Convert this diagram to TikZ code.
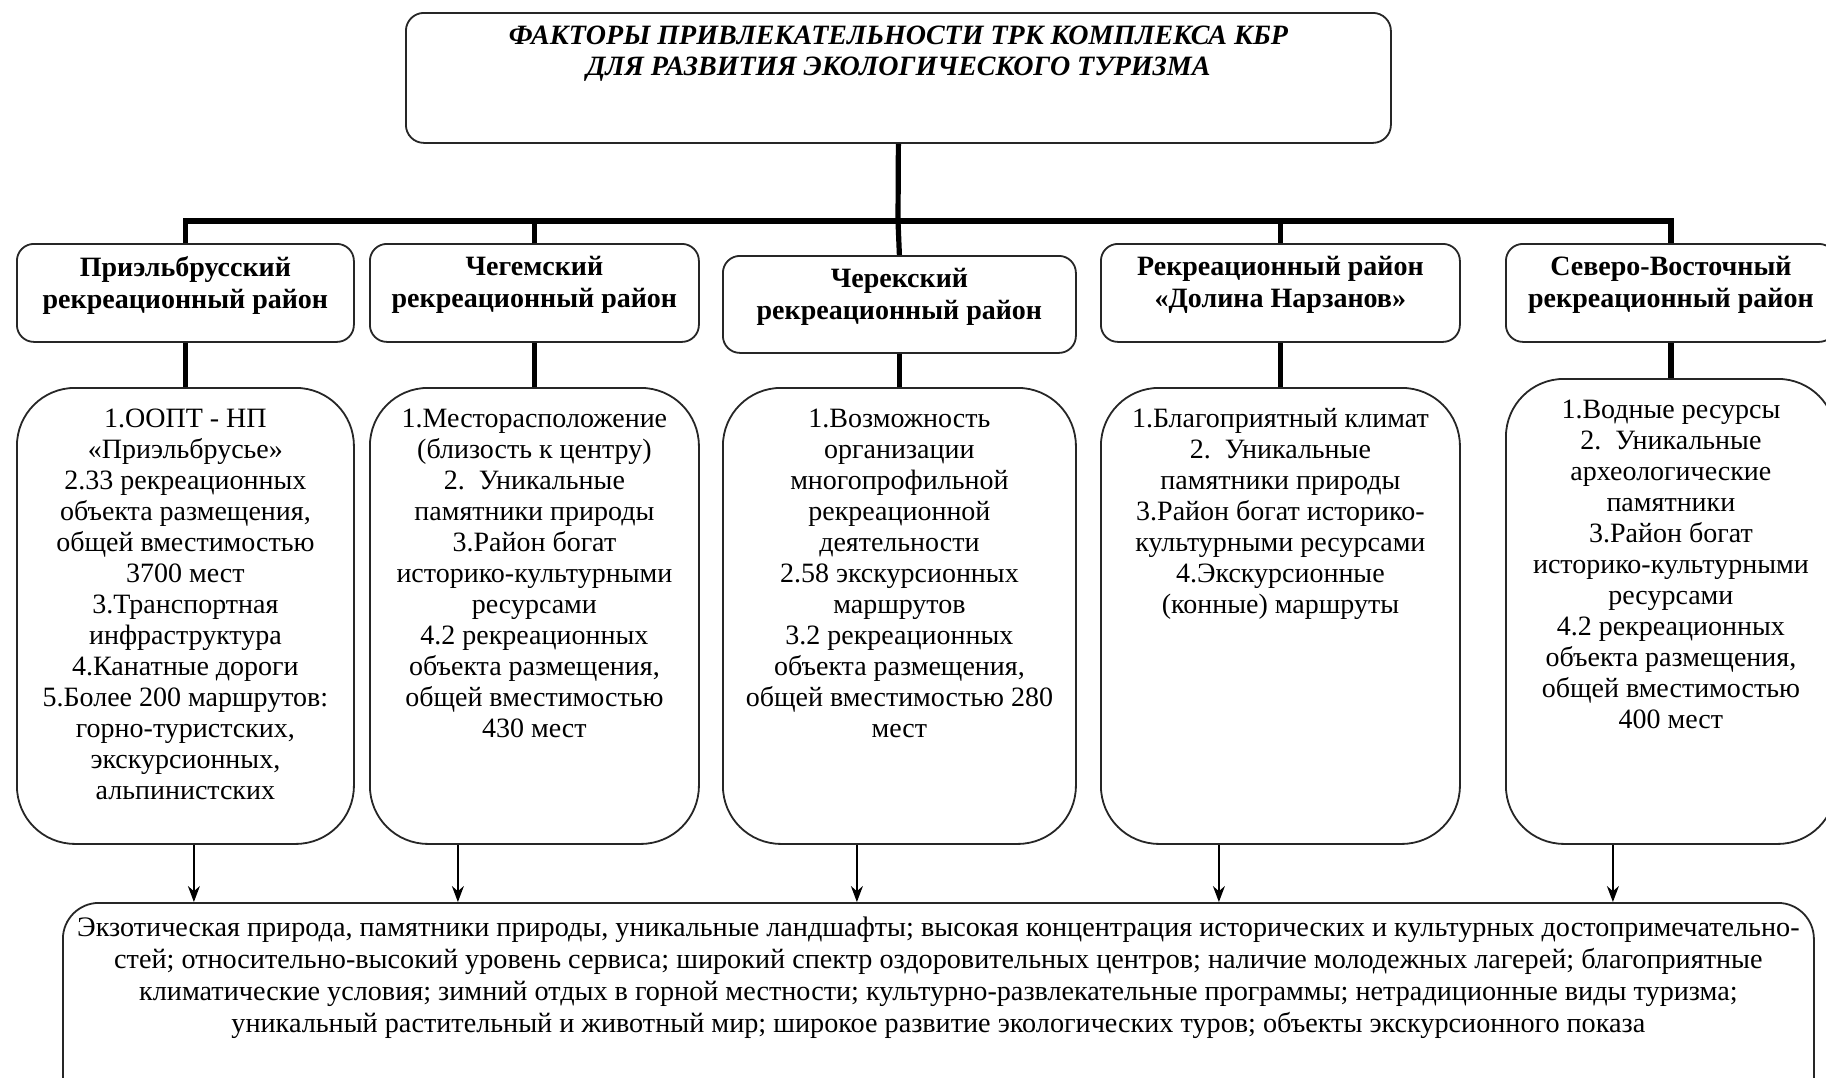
\documentclass[tikz,border=0pt]{standalone}
\usepackage{fontspec}
\setmainfont{Liberation Serif}
\usetikzlibrary{arrows.meta}
\tikzset{
  frame/.style={draw=black!85, line width=0.9pt, inner sep=0pt, anchor=north west, fill=white},
  hdr/.style={frame, rounded corners=8.5pt},
  det/.style={frame, rounded corners=29pt},
  low/.style={frame, rounded corners=18pt},
  busline/.style={line width=2.6pt},
  arr/.style={line width=0.75pt, -{Stealth[length=8pt,width=6pt]}},
}
\newcommand{\boxtext}[4]{\parbox[c][#2][t]{#1}{\centering\vspace*{#3}#4\par}}
\newcommand{\dfont}{\fontsize{14}{15.5}\selectfont}
\newcommand{\hfont}{\fontsize{14}{16}\selectfont\bfseries}
\begin{document}
\begin{tikzpicture}[x=0.5pt,y=-0.5pt]
\path[use as bounding box] (0,0) rectangle (1826,1077);
\clip (0,0) rectangle (1826,1077);

% title
\node[hdr, rounded corners=9pt] (title) at (405,12)
  {\boxtext{492.5pt}{65pt}{6.5pt}{\fontsize{14}{15.5}\selectfont\bfseries\itshape
   ФАКТОРЫ ПРИВЛЕКАТЕЛЬНОСТИ ТРК КОМПЛЕКСА КБР\\ДЛЯ РАЗВИТИЯ ЭКОЛОГИЧЕСКОГО ТУРИЗМА}};

% headers
\node[hdr] (h1) at (16,243) {\boxtext{168.5pt}{49pt}{6.4pt}{\hfont Приэльбрусский\\рекреационный район}};
\node[hdr] (h2) at (369,243) {\boxtext{164.5pt}{49pt}{6.4pt}{\hfont Чегемский\\рекреационный район}};
\node[hdr] (h3) at (722,255) {\boxtext{176.5pt}{48.5pt}{6.4pt}{\hfont Черекский\\рекреационный район}};
\node[hdr] (h4) at (1100,243) {\boxtext{179.5pt}{49pt}{6.4pt}{\hfont Рекреационный район\\«Долина Нарзанов»}};
\node[hdr] (h5) at (1505,243) {\boxtext{165pt}{49pt}{6.4pt}{\hfont Северо-Восточный\\рекреационный район}};

% details
\node[det] (d1) at (16,387) {\boxtext{168.5pt}{228pt}{10.4pt}{\dfont
  1.ООПТ - НП\\«Приэльбрусье»\\2.33 рекреационных\\объекта размещения,\\общей вместимостью\\3700 мест\\3.Транспортная\\инфраструктура\\4.Канатные дороги\\5.Более 200 маршрутов:\\горно-туристских,\\экскурсионных,\\альпинистских}};
\node[det] (d2) at (369,387) {\boxtext{164.5pt}{228pt}{10.4pt}{\dfont
  1.Месторасположение\\(близость к центру)\\2.\enspace Уникальные\\памятники природы\\3.Район богат\\историко-культурными\\ресурсами\\4.2 рекреационных\\объекта размещения,\\общей вместимостью\\430 мест}};
\node[det] (d3) at (722,387) {\boxtext{176.5pt}{228pt}{10.4pt}{\dfont
  1.Возможность\\организации\\многопрофильной\\рекреационной\\деятельности\\2.58 экскурсионных\\маршрутов\\3.2 рекреационных\\объекта размещения,\\общей вместимостью 280\\мест}};
\node[det] (d4) at (1100,387) {\boxtext{179.5pt}{228pt}{10.4pt}{\dfont
  1.Благоприятный климат\\2.\enspace Уникальные\\памятники природы\\3.Район богат историко-\\культурными ресурсами\\4.Экскурсионные\\(конные) маршруты}};
\node[det] (d5) at (1505,378) {\boxtext{165pt}{232.5pt}{10.4pt}{\dfont
  1.Водные ресурсы\\2.\enspace Уникальные\\археологические\\памятники\\3.Район богат\\историко-культурными\\ресурсами\\4.2 рекреационных\\объекта размещения,\\общей вместимостью\\400 мест}};

% bottom
\node[low] (low) at (62,902) {\boxtext{875.5pt}{125pt}{7.2pt}{\fontsize{14.1}{15.9}\selectfont
  Экзотическая природа, памятники природы, уникальные ландшафты; высокая концентрация исторических и культурных достопримечательно-\\
  стей; относительно-высокий уровень сервиса; широкий спектр оздоровительных центров; наличие молодежных лагерей; благоприятные\\
  климатические условия; зимний отдых в горной местности; культурно-развлекательные программы; нетрадиционные виды туризма;\\
  уникальный растительный и животный мир; широкое развитие экологических туров; объекты экскурсионного показа}};

% bus connectors
\coordinate (bus) at (898,221);
\draw[busline] (title.south) -- (bus);
\draw[busline] (h1.north) |- (bus) -| (h5.north);
\draw[busline] (bus) -- (h3.north);
\draw[busline] (h2.north) -- (h2.north |- bus);
\draw[busline] (h4.north) -- (h4.north |- bus);

\foreach \k in {1,...,5} {
  \draw[busline] (h\k.south) -- (d\k.north);
}

% arrows to bottom
\draw[arr] ([xshift=4.25pt]d1.south) -- ([xshift=4.25pt]d1.south |- low.north);
\draw[arr] ([xshift=-38.25pt]d2.south) -- ([xshift=-38.25pt]d2.south |- low.north);
\draw[arr] ([xshift=-21.25pt]d3.south) -- ([xshift=-21.25pt]d3.south |- low.north);
\draw[arr] ([xshift=-30.75pt]d4.south) -- ([xshift=-30.75pt]d4.south |- low.north);
\draw[arr] ([xshift=-29pt]d5.south) -- ([xshift=-29pt]d5.south |- low.north);
\end{tikzpicture}
\end{document}
